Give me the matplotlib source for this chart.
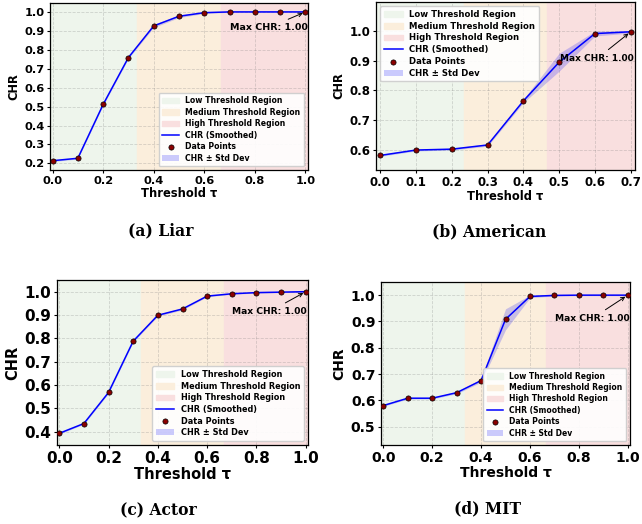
import numpy as np
import matplotlib
matplotlib.use("Agg")
import matplotlib.pyplot as plt

# 數據
liar_x = [0.0, 0.1, 0.2, 0.3, 0.4, 0.5, 0.6, 0.7, 0.8, 0.9, 1.0]
liar_chr = [0.214, 0.227, 0.511, 0.759, 0.926, 0.977, 0.996, 1.0, 1.0, 1.0, 1.0]
liar_std = [0.004, 0.004, 0.005, 0.005, 0.008, 0.007, 0.004, 0.002, 0.002, 0.002, 0.002]

american_x = [0.0, 0.1, 0.2, 0.3, 0.4, 0.5, 0.6, 0.7]
american_chr = [0.582, 0.600, 0.603, 0.617, 0.765, 0.895, 0.991, 0.997]
american_std = [0.003, 0.003, 0.003, 0.004, 0.006, 0.030, 0.008, 0.004]

actor_x = [0.0, 0.1, 0.2, 0.3, 0.4, 0.5, 0.6, 0.7, 0.8, 0.9, 1.0]
actor_chr = [0.393, 0.435, 0.568, 0.788, 0.899, 0.926, 0.981, 0.991, 0.996, 0.998, 1.0]
actor_std = [0.003, 0.003, 0.004, 0.004, 0.004, 0.004, 0.003, 0.002, 0.002, 0.002, 0.002]

mit_x = [0.0, 0.1, 0.2, 0.3, 0.4, 0.5, 0.6, 0.7, 0.8, 0.9, 1.0]
mit_chr = [0.580, 0.608, 0.608, 0.629, 0.675, 0.908, 0.995, 0.999, 1.0, 1.0, 1.0]
mit_std = [0.003, 0.003, 0.003, 0.004, 0.006, 0.040, 0.005, 0.002, 0.002, 0.002, 0.002]

W, H = 642, 524
fig = plt.figure(figsize=(W / 100, H / 100), dpi=100)


def px_rect(l, r, t, b):
    return [l / W, 1 - b / H, (r - l) / W, (b - t) / H]


panels = [
    # x, y, std, 軸位置, xlim, ylim, ticks, 字體大小, legend 位置, 註解位置, 標題
    dict(x=liar_x, y=liar_chr, s=liar_std, rect=px_rect(50, 308, 3, 170),
         xlim=(-0.01, 1.01), ylim=(0.165, 1.047), yticks=np.arange(0.2, 1.01, 0.1),
         xticks=np.arange(0, 1.01, 0.2), tick=8.2, lab=8.3, leg=5.6, ann=6.8,
         loc='lower right', txt=(0.70, 0.917), cap='(a) Liar', cap_xy=(161, 231)),
    dict(x=american_x, y=american_chr, s=american_std, rect=px_rect(376, 635, 2, 170),
         xlim=(-0.012, 0.712), ylim=(0.533, 1.097), yticks=np.arange(0.6, 1.01, 0.1),
         xticks=np.arange(0, 0.71, 0.1), tick=8.5, lab=8.3, leg=6.1, ann=6.5,
         loc='upper left', txt=(0.503, 0.907), cap='(b) American', cap_xy=(489, 232)),
    dict(x=actor_x, y=actor_chr, s=actor_std, rect=px_rect(57, 308, 280, 445),
         xlim=(-0.009, 1.009), ylim=(0.343, 1.05), yticks=np.arange(0.4, 1.01, 0.1),
         xticks=np.arange(0, 1.01, 0.2), tick=11.0, lab=10.5, leg=5.9, ann=6.6,
         loc='lower right', txt=(0.702, 0.915), cap='(c) Actor', cap_xy=(158, 511)),
    dict(x=mit_x, y=mit_chr, s=mit_std, rect=px_rect(381, 630, 282, 445),
         xlim=(-0.0094, 1.0094), ylim=(0.43, 1.05), yticks=np.arange(0.5, 1.01, 0.1),
         xticks=np.arange(0, 1.01, 0.2), tick=10.0, lab=10.0, leg=5.5, ann=6.6,
         loc='lower right', txt=(0.701, 0.911), cap='(d) MIT', cap_xy=(487, 509)),
]

for p in panels:
    ax = fig.add_axes(p['rect'])
    x = np.array(p['x'])
    y = np.array(p['y'])
    s = np.array(p['s'])
    xmax = x.max()

    # 三個閾值區域
    ax.axvspan(p['xlim'][0], xmax / 3, color='#eef5ec', label='Low Threshold Region')
    ax.axvspan(xmax / 3, 2 * xmax / 3, color='#fbeedc', label='Medium Threshold Region')
    ax.axvspan(2 * xmax / 3, p['xlim'][1], color='#f9dfdf', label='High Threshold Region')

    ax.plot(x, y, color='blue', linewidth=1.1, label='CHR (Smoothed)', zorder=3)
    ax.scatter(x, y, color='darkred', edgecolor='black', linewidth=0.5, s=14,
               label='Data Points', zorder=4)
    ax.fill_between(x, y - s, y + s, color='blue', alpha=0.2, linewidth=0,
                    label='CHR ± Std Dev', zorder=2)

    # 最大值標註 (取最後一個最大值)
    i = len(y) - 1 - int(np.argmax(y[::-1]))
    ax.annotate(f'Max CHR: {y[i]:.2f}', xy=(x[i], y[i]), xytext=p['txt'],
                ha='left', va='center', fontsize=p['ann'], fontweight='bold',
                arrowprops=dict(arrowstyle='->', color='black', lw=0.7), zorder=5)

    ax.set_xlim(p['xlim'])
    ax.set_ylim(p['ylim'])
    ax.set_xticks(p['xticks'])
    ax.set_yticks(p['yticks'])
    ax.set_xticklabels([f'{v:.1f}' for v in p['xticks']], fontsize=p['tick'], fontweight='bold')
    ax.set_yticklabels([f'{v:.1f}' for v in p['yticks']], fontsize=p['tick'], fontweight='bold')
    ax.tick_params(length=2.5, width=0.8, pad=1.5)
    ax.grid(True, linestyle='--', color='gray', alpha=0.3, linewidth=0.6)
    ax.set_xlabel('Threshold τ', fontsize=p['lab'], fontweight='bold', labelpad=1)
    ax.set_ylabel('CHR', fontsize=p['lab'], fontweight='bold', labelpad=3)
    for sp in ax.spines.values():
        sp.set_linewidth(0.9)

    handles, labels = ax.get_legend_handles_labels()
    order = ['Low Threshold Region', 'Medium Threshold Region', 'High Threshold Region',
             'CHR (Smoothed)', 'Data Points', 'CHR ± Std Dev']
    hl = dict(zip(labels, handles))
    ax.legend([hl[k] for k in order], order, loc=p['loc'],
              prop={'weight': 'bold', 'size': p['leg']}, framealpha=0.9,
              borderpad=0.45, labelspacing=0.32, handlelength=2.2)

    fig.text(p['cap_xy'][0] / W, 1 - p['cap_xy'][1] / H, p['cap'],
             ha='center', va='center', fontsize=11.2, fontweight='bold',
             family='DejaVu Serif')

fig.savefig('out.png', dpi=100)
